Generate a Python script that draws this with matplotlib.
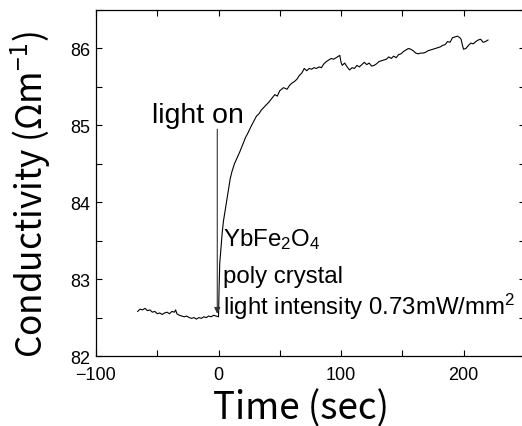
import matplotlib
matplotlib.use('Agg')
import matplotlib.pyplot as plt
from matplotlib.ticker import MultipleLocator

plt.rcParams['font.family'] = ['Liberation Sans', 'DejaVu Sans']
plt.rcParams['mathtext.default'] = 'regular'

# photo-conductivity trace
time_s = [-66, -64, -62, -60, -58, -56, -54, -52, -50, -48, -46, -44, -42, -40,
          -38, -36, -35, -34, -32, -30, -28, -26, -24, -22, -20, -18, -16, -14,
          -12, -10, -8, -6, -4, -2, 0,
          0.5, 1, 2, 3, 4, 5, 6, 7, 8, 9.5, 11, 13, 15, 17.5, 20, 22, 24, 27,
          29, 31, 33, 35, 38, 41, 44, 46, 48, 50, 53, 56, 58, 60, 62, 64, 66,
          68, 70, 72, 74, 76, 78, 80, 82, 84, 86, 88, 90, 92, 94, 96, 98, 99,
          100, 101, 103, 105, 107, 109, 111, 113, 115, 117, 119, 121, 123, 125,
          127, 129, 131, 133, 135, 137, 139, 141, 143, 145, 147, 149, 151, 153,
          155, 157, 159, 161, 163, 165, 167, 169, 171, 173, 175, 177, 179, 181,
          183, 185, 187, 189, 191, 193, 195, 197, 198, 199, 200, 202, 204, 206,
          208, 210, 212, 214, 216, 218, 220]
conductivity = [82.58, 82.61, 82.60, 82.62, 82.59, 82.60, 82.57, 82.58, 82.55,
                82.56, 82.54, 82.56, 82.57, 82.55, 82.58, 82.57, 82.60, 82.55,
                82.53, 82.52, 82.51, 82.52, 82.50, 82.49, 82.50, 82.48, 82.50,
                82.49, 82.51, 82.50, 82.52, 82.51, 82.53, 82.52, 82.51,
                82.90, 83.20, 83.40, 83.60, 83.75, 83.85, 83.95, 84.05, 84.15,
                84.30, 84.40, 84.50, 84.57, 84.66, 84.76, 84.84, 84.90, 85.00,
                85.06, 85.12, 85.15, 85.20, 85.25, 85.30, 85.36, 85.40, 85.38,
                85.45, 85.49, 85.47, 85.52, 85.55, 85.57, 85.60, 85.65, 85.68,
                85.74, 85.71, 85.74, 85.73, 85.75, 85.74, 85.76, 85.75, 85.80,
                85.83, 85.85, 85.87, 85.86, 85.88, 85.90, 85.91, 85.82, 85.78,
                85.81, 85.76, 85.72, 85.75, 85.74, 85.78, 85.76, 85.79, 85.82,
                85.79, 85.81, 85.77, 85.78, 85.80, 85.83, 85.84, 85.85, 85.86,
                85.89, 85.87, 85.90, 85.88, 85.92, 85.93, 85.96, 85.98, 86.00,
                85.99, 85.97, 85.94, 85.93, 85.94, 85.94, 85.95, 85.97, 85.98,
                85.99, 86.00, 86.01, 86.02, 86.04, 86.05, 86.09, 86.08, 86.14,
                86.15, 86.16, 86.14, 86.12, 86.05, 85.99, 86.00, 86.04, 86.07,
                86.06, 86.09, 86.11, 86.12, 86.08, 86.09, 86.11]

sample_lines = ['YbFe$_2$O$_4$', 'poly crystal', 'light intensity 0.73mW/mm$^2$']

fig = plt.figure(figsize=(5.22, 4.27), dpi=100)
ax = fig.add_axes([0.1839, 0.1639, 0.8214, 0.8103])

ax.plot(time_s, conductivity, color='black', lw=0.8)

ax.set_xlim(-100, 250)
ax.set_ylim(82, 86.5)
ax.set_xticks([-100, 0, 100, 200])
ax.set_yticks([82, 83, 84, 85, 86])
ax.xaxis.set_minor_locator(MultipleLocator(50))
ax.yaxis.set_minor_locator(MultipleLocator(0.5))
ax.tick_params(which='both', direction='in', top=True, right=True,
               length=4, width=0.8, labelsize=13)
ax.tick_params(axis='x', pad=7)
ax.tick_params(axis='y', pad=4)
for s in ax.spines.values():
    s.set_linewidth(0.9)

# arrow marking light on
ax.annotate('', xy=(-1, 82.55), xytext=(-1, 84.95),
            arrowprops=dict(arrowstyle='-|>', color='#333333', lw=0.8,
                            mutation_scale=9, shrinkA=0, shrinkB=0))
ax.text(-54.3, 85.05, 'light on', fontsize=20.5, va='baseline', ha='left')

for txt, yv in zip(sample_lines, [83.44, 82.96, 82.55]):
    ax.text(3.7, yv, txt, fontsize=17.3, va='baseline', ha='left', clip_on=False)

fig.text(0.577, 0.043, 'Time (sec)', fontsize=26.5, ha='center', va='center',
         family=['Noto Sans CJK JP', 'DejaVu Sans'])
fig.text(0.059, 0.545, r'Conductivity (Ωm$^{-1}$)', fontsize=25.3, ha='center',
         va='center', rotation=90, family=['Noto Sans CJK JP', 'DejaVu Sans'])

plt.savefig('out.png', dpi=100)
